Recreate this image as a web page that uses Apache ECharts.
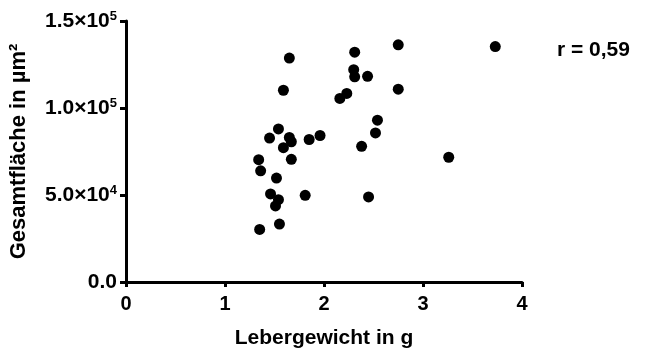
<!DOCTYPE html>
<html><head><meta charset="utf-8">
<script src="https://cdn.jsdelivr.net/npm/echarts@6/dist/echarts.min.js"></script>
<style>html,body{margin:0;padding:0;background:#fff}#c{width:645px;height:354px}</style>
</head><body><div id="c"></div>
<script>
var leberGewicht = [1.65,2.31,2.75,3.73,2.30,2.31,2.44,2.75,1.59,2.23,2.16,2.54,2.52,1.54,1.45,1.65,1.67,1.85,1.96,1.59,2.38,1.34,1.67,3.26,1.36,1.52,1.46,1.81,1.54,1.51,2.45,1.55,1.35];
var gesamtFlaeche = [128700,132100,136300,135300,122000,117900,118200,110800,110200,108400,105500,93000,85700,88000,82700,83100,80600,81900,84200,77200,78000,70300,70500,71700,63900,59700,50600,49800,47300,43700,48900,33300,30200];
var xTicks = [0,1,2,3,4];
var yTicks = [0,50000,100000,150000];
var yTickMantissa = ['0.0','5.0','1.0','1.5'];
var yTickExp = ['','4','5','5'];

var pts = leberGewicht.map(function(x,i){return [x,gesamtFlaeche[i]];});
var font = 'Liberation Sans, Arial, sans-serif';
var chart = echarts.init(document.getElementById('c'));
chart.setOption({
  animation:false,
  grid:{left:125,right:123,top:21,bottom:70},
  xAxis:{type:'value',min:0,max:4,interval:1,
    name:'Lebergewicht in g',nameLocation:'middle',nameGap:46,
    nameTextStyle:{fontFamily:font,fontWeight:'bold',fontSize:21,color:'#000'},
    axisLine:{lineStyle:{color:'#000',width:3}},
    axisTick:{length:5,lineStyle:{color:'#000',width:3}},
    axisLabel:{fontFamily:font,fontWeight:'bold',fontSize:20,color:'#000',margin:12,
      formatter:function(v){return String(v);}},
    splitLine:{show:false}},
  yAxis:{type:'value',min:0,max:150000,interval:50000,
    name:'Gesamtfläche in µm²',nameLocation:'middle',nameGap:96,
    nameTextStyle:{fontFamily:font,fontWeight:'bold',fontSize:22,color:'#000'},
    axisLine:{show:true,lineStyle:{color:'#000',width:3}},
    axisTick:{show:true,length:6,lineStyle:{color:'#000',width:3}},
    axisLabel:{margin:9,
      formatter:function(v){
        var i = yTicks.indexOf(v);
        if(i<0) return '';
        if(!yTickExp[i]) return '{m|'+yTickMantissa[i]+'}';
        return '{m|'+yTickMantissa[i]+'×10}{e|'+yTickExp[i]+'}';
      },
      rich:{
        m:{fontFamily:font,fontWeight:'bold',fontSize:21,color:'#000'},
        e:{fontFamily:font,fontWeight:'bold',fontSize:13,color:'#000',verticalAlign:'top',padding:[0,0,10,0]}
      }},
    splitLine:{show:false}},
  series:[{type:'scatter',data:pts,symbol:'circle',symbolSize:11,
    itemStyle:{color:'#000',opacity:1}}],
  graphic:[{type:'text',left:557,top:40,
    style:{text:'r = 0,59',fontFamily:font,fontWeight:'bold',fontSize:21,fill:'#000'}}]
});
</script></body></html>
